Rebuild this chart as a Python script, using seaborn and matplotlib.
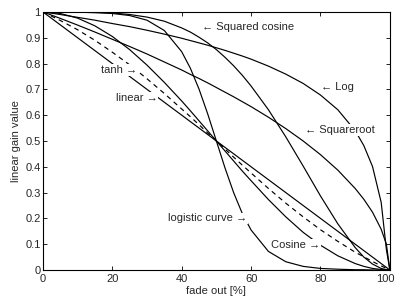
import matplotlib
matplotlib.use('Agg')
import matplotlib.pyplot as plt
from matplotlib.transforms import ScaledTranslation
import seaborn as sns
import pandas as pd
import numpy as np

# fade position [%] and gain values
fade = [0, 5, 10, 15, 20, 25, 30, 35, 40, 42.5, 45, 47.5, 50, 52.5, 55, 57.5, 60,
        65, 70, 75, 80, 85, 90, 92.5, 95, 97.5, 99, 100]

linear = [1, .95, .9, .85, .8, .75, .7, .65, .6, .575, .55, .525, .5, .475, .45, .425, .4,
          .35, .3, .25, .2, .15, .1, .075, .05, .025, .01, 0]
tanh_ = [1, .967, .931, .890, .844, .795, .741, .684, .624, .594, .563, .531, .5, .469, .437, .406, .376,
         .316, .259, .206, .156, .111, .069, .051, .033, .016, .006, 0]
cosine = [1, .994, .976, .946, .905, .854, .794, .727, .655, .617, .578, .539, .5, .461, .422, .383, .346,
          .273, .206, .146, .096, .055, .025, .014, .006, .002, 0, 0]
logistic = [1, .9995, .999, .997, .994, .986, .968, .928, .846, .782, .701, .605, .5, .395, .299, .218, .155,
            .072, .032, .014, .006, .003, .001, .001, 0, 0, 0, 0]
log_ = [1, .990, .979, .968, .955, .943, .929, .914, .898, .889, .880, .871, .861, .851, .840, .829, .817,
        .790, .759, .723, .678, .621, .540, .482, .401, .262, .079, 0]
sqroot = [1, .975, .949, .922, .894, .866, .837, .806, .775, .758, .742, .725, .707, .689, .671, .652, .633,
          .592, .548, .5, .447, .387, .316, .274, .224, .158, .1, 0]
sqcos = [1, 1, 1, .999, .996, .990, .980, .964, .938, .922, .902, .880, .854, .824, .791, .754, .713,
         .621, .516, .403, .287, .179, .087, .050, .023, .006, .001, 0]

df = pd.DataFrame({'fade': fade, 'linear': linear, 'tanh': tanh_, 'cosine': cosine,
                   'logistic': logistic, 'log': log_, 'sqrt': sqroot, 'sqcos': sqcos})

sns.set_style('ticks', {'xtick.direction': 'in', 'ytick.direction': 'in'})
plt.rcParams['font.family'] = ['Liberation Sans', 'DejaVu Sans']

fig = plt.figure(figsize=(3.97, 2.98), dpi=100)
ax = fig.add_axes([0.108, 0.094, 0.874, 0.866])

for col in ['linear', 'cosine', 'logistic', 'log', 'sqrt', 'sqcos']:
    sns.lineplot(data=df, x='fade', y=col, ax=ax, color='black', linewidth=0.85)
sns.lineplot(data=df, x='fade', y='tanh', ax=ax, color='black', linewidth=0.85,
             linestyle=(0, (4, 3.5)))

# labels with the arrow in the string, white box hides the lines behind (like the original)
box = dict(facecolor='white', edgecolor='none', pad=0.6)
fs = 8
ax.text(46, 0.94, '\u2190 Squared cosine', fontsize=fs, va='center', ha='left', bbox=box)
ax.text(80.3, 0.708, '\u2190 Log', fontsize=fs, va='center', ha='left', bbox=box)
ax.text(75.5, 0.543, '\u2190 Squareroot', fontsize=fs, va='center', ha='left', bbox=box)
ax.text(27.2, 0.775, 'tanh \u2192', fontsize=fs, va='center', ha='right', bbox=box)
ax.text(33, 0.667, 'linear \u2192', fontsize=fs, va='center', ha='right', bbox=box)
ax.text(58.8, 0.2, 'logistic curve \u2192', fontsize=fs, va='center', ha='right', bbox=box)
ax.text(79.8, 0.097, 'Cosine \u2192', fontsize=fs, va='center', ha='right', bbox=box)

ax.set_xlim(0, 100)
ax.set_ylim(0, 1)
ax.set_xticks([0, 20, 40, 60, 80, 100])
ax.set_yticks(np.round(np.arange(0, 1.01, 0.1), 1))
ax.set_yticklabels(['0', '0.1', '0.2', '0.3', '0.4', '0.5', '0.6', '0.7', '0.8', '0.9', '1'])
ax.tick_params(top=True, right=True, length=3, width=0.6, labelsize=8, color='black')
ax.tick_params(axis='y', pad=1.5)
ax.tick_params(axis='x', pad=3)
for s in ax.spines.values():
    s.set_visible(True)
    s.set_linewidth(0.8)
    s.set_color('black')
ax.set_xlabel('fade out [%]', fontsize=8, labelpad=1)
ax.set_ylabel('linear gain value', fontsize=8, labelpad=3)

# keep the "100" label inside the canvas
last = ax.get_xticklabels()[-1]
last.set_transform(last.get_transform() + ScaledTranslation(-5 / 100, 0, fig.dpi_scale_trans))

fig.savefig('out.png', dpi=100)
